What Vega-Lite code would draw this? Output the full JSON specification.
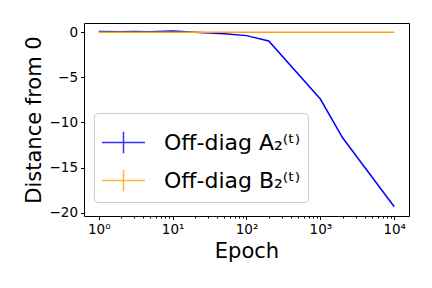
{
  "$schema": "https://vega.github.io/schema/vega-lite/v6.json",
  "width": 325,
  "height": 193,
  "autosize": "none",
  "padding": {"left": 84, "top": 23, "right": 23, "bottom": 72},
  "background": "white",
  "config": {
    "view": {"stroke": "black", "strokeWidth": 1},
    "font": "DejaVu Sans",
    "axis": {"grid": false, "domain": false, "tickColor": "black", "labelColor": "black", "titleColor": "black", "labelFont": "DejaVu Sans", "titleFont": "DejaVu Sans", "titleFontWeight": "normal"}
  },
  "data": {"values": [
    {"series": "A", "epoch": 1, "value": 0.1},
    {"series": "A", "epoch": 2, "value": 0.05},
    {"series": "A", "epoch": 3, "value": 0.1},
    {"series": "A", "epoch": 5, "value": 0.05},
    {"series": "A", "epoch": 10, "value": 0.15},
    {"series": "A", "epoch": 20, "value": 0.0},
    {"series": "A", "epoch": 50, "value": -0.15},
    {"series": "A", "epoch": 100, "value": -0.37},
    {"series": "A", "epoch": 200, "value": -0.96},
    {"series": "A", "epoch": 1000, "value": -7.4},
    {"series": "A", "epoch": 2000, "value": -11.7},
    {"series": "A", "epoch": 10000, "value": -19.35},
    {"series": "B", "epoch": 1, "value": 0.0},
    {"series": "B", "epoch": 10, "value": 0.0},
    {"series": "B", "epoch": 100, "value": 0.0},
    {"series": "B", "epoch": 1000, "value": 0.0},
    {"series": "B", "epoch": 10000, "value": 0.0}
  ]},
  "layer": [
    {
      "mark": {"type": "line", "strokeWidth": 1.5},
      "encoding": {
        "x": {"field": "epoch", "type": "quantitative",
          "scale": {"type": "log", "domain": [0.631, 15849], "nice": false},
          "axis": {"values": [1, 10, 100, 1000, 10000], "title": "Epoch", "titleFontSize": 21, "labelFontSize": 13.5, "tickSize": 3.5, "labelPadding": 3, "titlePadding": 4,
            "labelExpr": "datum.value == 1 ? '10⁰' : datum.value == 10 ? '10¹' : datum.value == 100 ? '10²' : datum.value == 1000 ? '10³' : '10⁴'"}},
        "y": {"field": "value", "type": "quantitative",
          "scale": {"domain": [-20.37, 1.03], "nice": false, "zero": false},
          "axis": {"values": [0, -5, -10, -15, -20], "title": "Distance from 0", "titleFontSize": 21, "labelFontSize": 13.5, "tickSize": 3.5, "labelPadding": 3, "titlePadding": 5}},
        "color": {"field": "series", "type": "nominal",
          "scale": {"domain": ["A", "B"], "range": ["#0000ff", "#ffa500"]},
          "legend": {"orient": "none", "legendX": 10, "legendY": 90, "title": null,
            "labelExpr": "datum.value == 'A' ? 'Off-diag A₂⁽ᵗ⁾' : 'Off-diag B₂⁽ᵗ⁾'",
            "labelFontSize": 22, "labelFont": "DejaVu Sans", "labelColor": "black",
            "symbolType": "M-1,0H1M0,-0.5V0.5", "symbolSize": 1849, "symbolStrokeWidth": 1.5, "symbolOpacity": 0.8,
            "rowPadding": 1, "labelOffset": 18,
            "strokeColor": "#cccccc", "fillColor": "white", "cornerRadius": 4, "padding": 7, "offset": 0}}
      }
    },
    {
      "mark": {"type": "point", "opacity": 0},
      "encoding": {
        "x": {"field": "epoch", "type": "quantitative",
          "axis": {"orient": "bottom", "title": null, "labels": false, "tickSize": 2, "values": [2,3,4,5,6,7,8,9,20,30,40,50,60,70,80,90,200,300,400,500,600,700,800,900,2000,3000,4000,5000,6000,7000,8000,9000]}},
        "y": {"field": "value", "type": "quantitative", "axis": null}
      }
    }
  ],
  "resolve": {"axis": {"x": "independent", "y": "independent"}}
}
